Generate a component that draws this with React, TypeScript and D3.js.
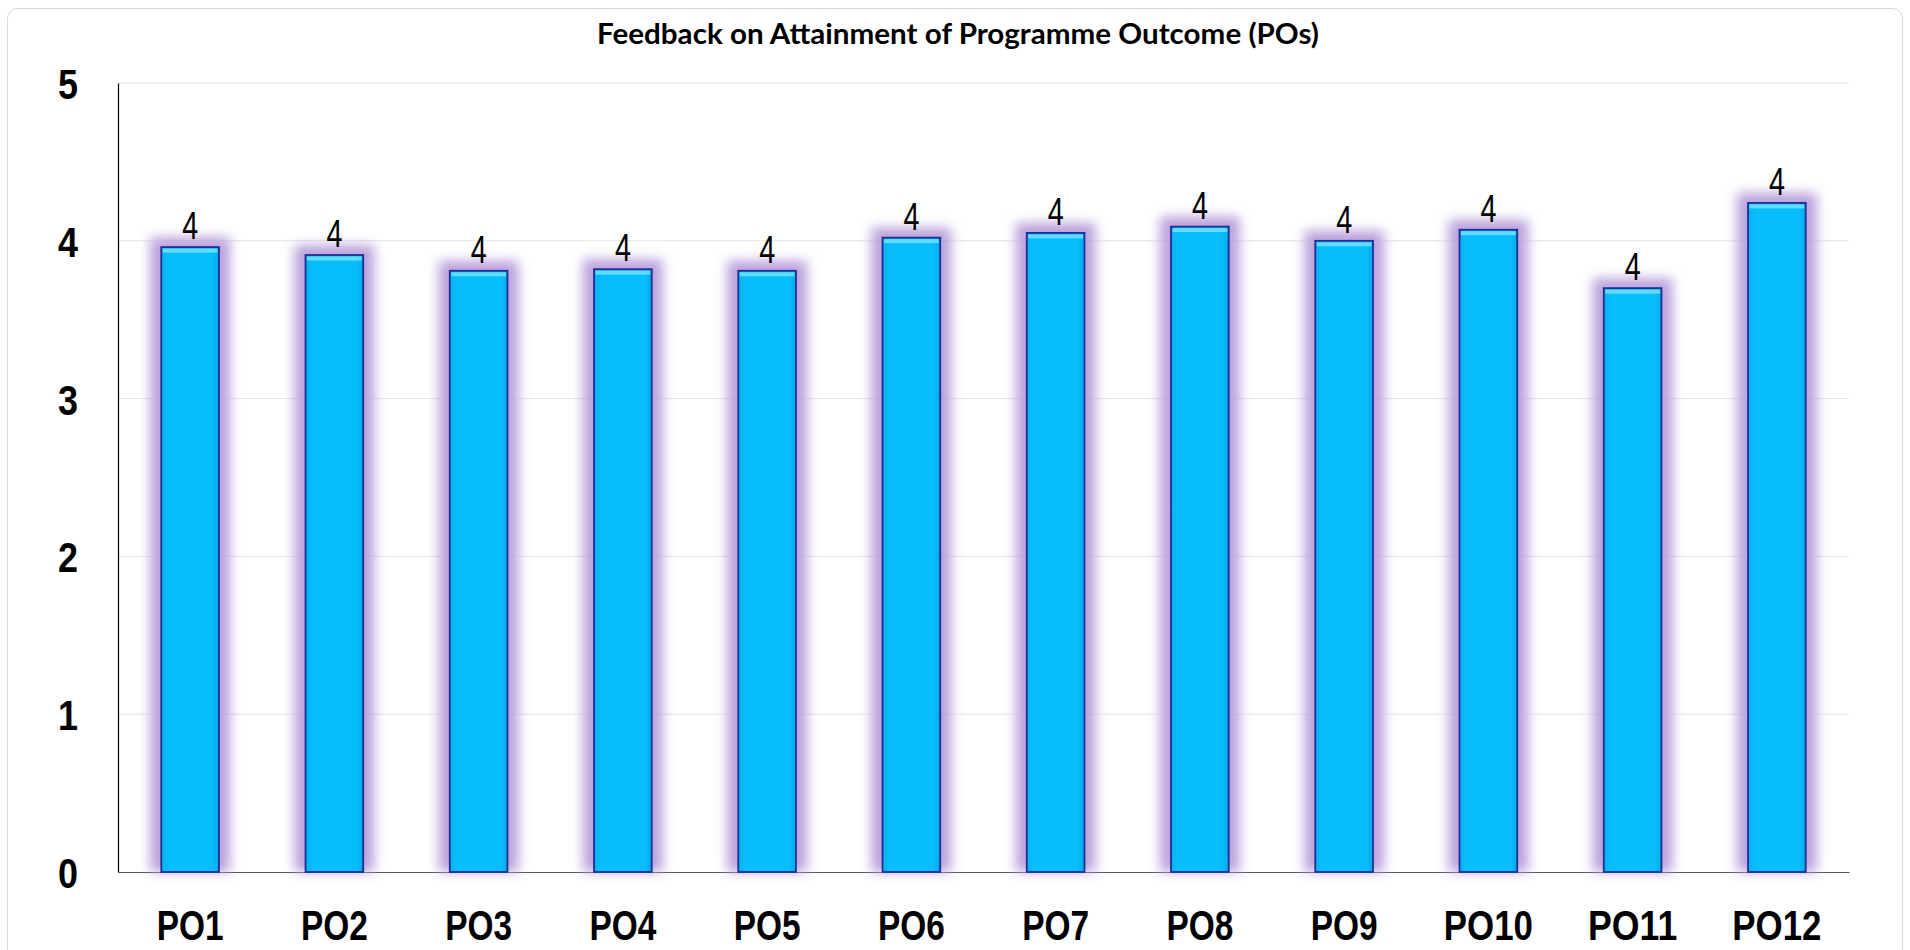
import React, { useEffect, useRef } from 'react';
import * as d3 from 'd3';

const categories = ['PO1', 'PO2', 'PO3', 'PO4', 'PO5', 'PO6', 'PO7', 'PO8', 'PO9', 'PO10', 'PO11', 'PO12'];
const scores = [3.96, 3.91, 3.81, 3.82, 3.81, 4.02, 4.05, 4.09, 4.0, 4.07, 3.7, 4.24];
const valueLabels = ['4', '4', '4', '4', '4', '4', '4', '4', '4', '4', '4', '4'];
const yTicks = [0, 1, 2, 3, 4, 5];
const title = 'Feedback on Attainment of Programme Outcome (POs)';

// Arial Narrow isn't available, so Liberation Sans squeezed with textLength
const sans = '"Liberation Sans", Arial, sans-serif';

const App: React.FC = () => {
  const svgRef = useRef<SVGSVGElement>(null);

  useEffect(() => {
    if (!svgRef.current) return;
    const W = 1910, H = 950;
    const margin = { top: 83, right: 61, bottom: 78, left: 118 };
    const width = W - margin.left - margin.right;
    const height = H - margin.top - margin.bottom;

    const svg = d3.select(svgRef.current).attr('width', W).attr('height', H).html('');

    const defs = svg.append('defs');
    const glow = defs.append('filter').attr('id', 'glow')
      .attr('x', '-50%').attr('y', '-20%').attr('width', '200%').attr('height', '140%');
    glow.append('feGaussianBlur').attr('stdDeviation', 6);

    const grad = defs.append('linearGradient').attr('id', 'barFill').attr('x1', 0).attr('x2', 1).attr('y1', 0).attr('y2', 0);
    grad.append('stop').attr('offset', '0%').attr('stop-color', '#05b2ee');
    grad.append('stop').attr('offset', '12%').attr('stop-color', '#08bdfb');
    grad.append('stop').attr('offset', '88%').attr('stop-color', '#08bdfb');
    grad.append('stop').attr('offset', '100%').attr('stop-color', '#04aae4');

    // panel
    svg.append('rect').attr('x', 7.5).attr('y', 8.5).attr('width', W - 15).attr('height', H + 20)
      .attr('rx', 10).attr('fill', '#fff').attr('stroke', '#d9d9d9');

    svg.append('text').attr('x', 958).attr('y', 44).attr('text-anchor', 'middle')
      .attr('font-family', 'Lato, "Open Sans", sans-serif').attr('font-weight', 700).attr('font-size', 28)
      .attr('textLength', 722).attr('lengthAdjust', 'spacingAndGlyphs')
      .attr('fill', '#000').text(title);

    const g = svg.append('g').attr('transform', `translate(${margin.left},${margin.top})`);

    const x = d3.scaleBand().domain(categories).range([0, width]).paddingInner(0.6).paddingOuter(0.3);
    const y = d3.scaleLinear().domain([0, 5]).range([height, 0]);

    // gridlines
    g.append('g').selectAll('line').data(yTicks.filter(t => t > 0)).join('line')
      .attr('x1', 0).attr('x2', width).attr('y1', d => y(d)).attr('y2', d => y(d))
      .attr('stroke', '#e3e3e3').attr('stroke-width', 1);

    const yAxis = d3.axisLeft(y).tickValues(yTicks).tickSize(0).tickPadding(40).tickFormat(d3.format('d'));
    const gy = g.append('g').call(yAxis);
    gy.select('.domain').attr('stroke', '#000').attr('stroke-width', 1.2);
    gy.selectAll('.tick text').attr('font-family', sans).attr('font-weight', 700)
      .attr('font-size', 43).attr('fill', '#000').attr('dy', '0.36em')
      .attr('textLength', 20).attr('lengthAdjust', 'spacingAndGlyphs');

    const xAxis = d3.axisBottom(x).tickSize(0).tickPadding(38);
    const gx = g.append('g').attr('transform', `translate(0,${height})`).call(xAxis);
    gx.select('.domain').attr('stroke', '#555').attr('stroke-width', 1.2);
    gx.selectAll<SVGTextElement, string>('.tick text').attr('font-family', sans).attr('font-weight', 700)
      .attr('font-size', 42).attr('fill', '#000').attr('dy', '0.72em')
      .attr('textLength', d => d.length * 22.3).attr('lengthAdjust', 'spacingAndGlyphs');

    const data = categories.map((c, i) => ({ c, v: scores[i], label: valueLabels[i] }));
    const bw = x.bandwidth();

    // purple glow
    g.append('g').selectAll('rect').data(data).join('rect')
      .attr('x', d => (x(d.c) as number) - 11).attr('y', d => y(d.v) - 10)
      .attr('width', bw + 22).attr('height', d => height - y(d.v) + 10)
      .attr('fill', '#bba1dc').attr('filter', 'url(#glow)');

    const bars = g.append('g');
    bars.selectAll('rect.bar').data(data).join('rect').attr('class', 'bar')
      .attr('x', d => x(d.c) as number).attr('y', d => y(d.v))
      .attr('width', bw).attr('height', d => height - y(d.v))
      .attr('fill', 'url(#barFill)').attr('stroke', '#1f2d96').attr('stroke-width', 1.8);
    bars.selectAll('rect.hl').data(data).join('rect').attr('class', 'hl')
      .attr('x', d => (x(d.c) as number) + 1.5).attr('y', d => y(d.v) + 1.5)
      .attr('width', bw - 3).attr('height', 4).attr('fill', '#5fdcff');

    g.append('g').selectAll('text').data(data).join('text')
      .attr('x', d => (x(d.c) as number) + bw / 2).attr('y', d => y(d.v) - 8)
      .attr('text-anchor', 'middle').attr('font-family', sans).attr('font-size', 39)
      .attr('textLength', 16).attr('lengthAdjust', 'spacingAndGlyphs')
      .attr('fill', '#000').text(d => d.label);
  }, []);

  return (
    <div style={{ position: 'absolute', left: 0, top: 0, width: 1910, height: 950, overflow: 'hidden', background: '#fff' }}>
      <svg ref={svgRef}></svg>
    </div>
  );
};

export default App;
